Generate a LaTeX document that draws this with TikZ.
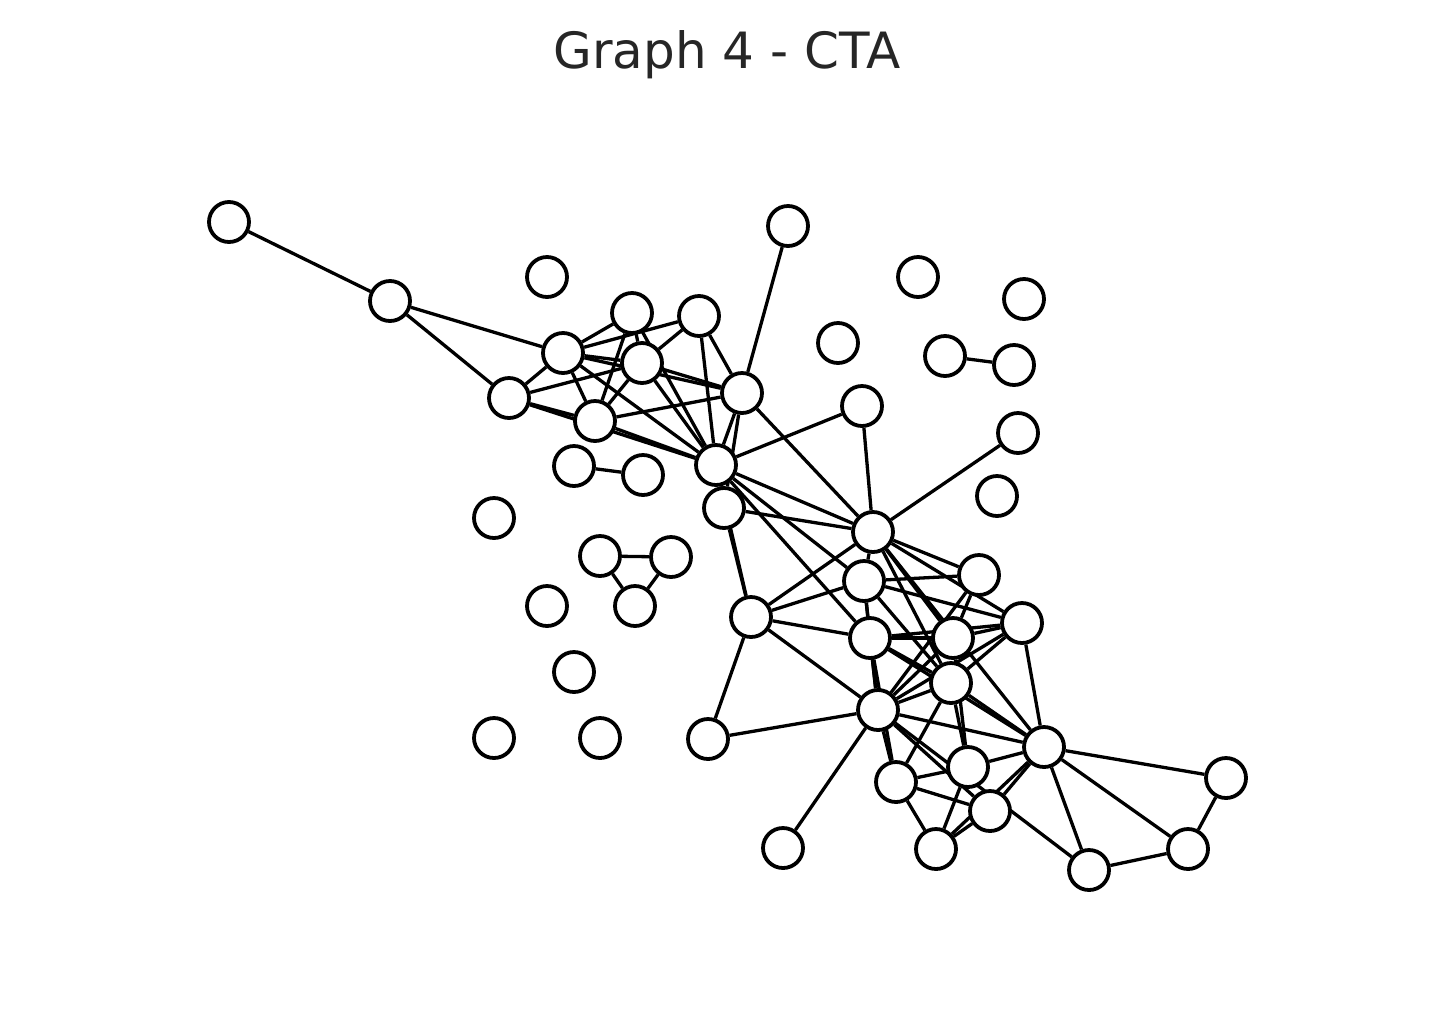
\documentclass[tikz,border=0pt]{standalone}
\usepackage{fontspec}
\setmainfont{DejaVu Sans}
\pgfdeclarelayer{bg}
\pgfsetlayers{bg,main}
\begin{document}
\begin{tikzpicture}[x=1pt,y=-1pt,
  vtx/.style={circle,draw=black,line width=3.8pt,fill=white,minimum size=40pt,inner sep=0pt},
  edge/.style={line width=3.3pt,black},
  ttl/.style={text=black!85,font=\fontsize{50}{60}\selectfont,anchor=base}]
\useasboundingbox (0,0) rectangle (1455,1029);
\node[ttl] (title) at (727,68) {Graph 4 - CTA};
% nodes
\node[vtx] (A) at (229,222) {};
\node[vtx] (B) at (390,301) {};
\node[vtx] (C) at (547,277) {};
\node[vtx] (D) at (632,313) {};
\node[vtx] (E) at (699,316) {};
\node[vtx] (F) at (563,353) {};
\node[vtx] (G) at (642,363) {};
\node[vtx] (H) at (509,398) {};
\node[vtx] (I) at (742,393) {};
\node[vtx] (J) at (595,421) {};
\node[vtx] (K) at (788,226) {};
\node[vtx] (L) at (838,343) {};
\node[vtx] (M) at (918,277) {};
\node[vtx] (N) at (1024,299) {};
\node[vtx] (O) at (945,356) {};
\node[vtx] (P) at (1014,365) {};
\node[vtx] (Q) at (862,406) {};
\node[vtx] (R) at (1018,433) {};
\node[vtx] (S) at (574,466) {};
\node[vtx] (T) at (643,475) {};
\node[vtx] (U) at (716,465) {};
\node[vtx] (V) at (724,508) {};
\node[vtx] (W) at (997,496) {};
\node[vtx] (X) at (494,518) {};
\node[vtx] (Y) at (600,556) {};
\node[vtx] (Z) at (671,557) {};
\node[vtx] (AA) at (635,606) {};
\node[vtx] (AB) at (547,606) {};
\node[vtx] (AC) at (873,532) {};
\node[vtx] (AD) at (864,581) {};
\node[vtx] (AE) at (979,575) {};
\node[vtx] (AF) at (751,617) {};
\node[vtx] (AG) at (870,638) {};
\node[vtx] (AH) at (953,638) {};
\node[vtx] (AI) at (1022,623) {};
\node[vtx] (AJ) at (951,683) {};
\node[vtx] (AK) at (574,672) {};
\node[vtx] (AL) at (878,710) {};
\node[vtx] (AM) at (494,738) {};
\node[vtx] (AN) at (600,738) {};
\node[vtx] (AO) at (708,739) {};
\node[vtx] (AP) at (1044,747) {};
\node[vtx] (AQ) at (968,767) {};
\node[vtx] (AR) at (896,782) {};
\node[vtx] (AS) at (990,811) {};
\node[vtx] (AT) at (1226,778) {};
\node[vtx] (AU) at (783,848) {};
\node[vtx] (AV) at (936,849) {};
\node[vtx] (AW) at (1089,870) {};
\node[vtx] (AX) at (1188,849) {};
\begin{pgfonlayer}{bg}
\foreach \a/\b in {A/B,B/F,B/H,F/D,F/E,F/G,F/I,F/H,F/J,F/U,D/J,D/G,D/U,H/G,H/J,H/U,
  G/J,G/E,G/I,G/U,E/I,E/U,J/I,J/U,K/I,I/U,I/V,I/AC,U/Q,U/AC,U/AD,U/AG,U/AF,S/T,O/P,
  Y/Z,Y/AA,Z/AA,Q/AC,R/AC,V/AC,V/AF,AF/AC,AF/AD,AF/AG,AF/AL,AF/AO,AO/AL,AL/AU,
  AC/AD,AD/AG,AG/AL,AD/AL,AL/AR,AG/AR,AC/AE,AC/AI,AC/AH,AC/AJ,AC/AP,AD/AE,AD/AI,AD/AJ,
  AG/AH,AG/AI,AG/AJ,AG/AP,AH/AI,AE/AH,AE/AL,AI/AJ,AI/AL,AI/AP,AH/AL,AJ/AL,AJ/AP,
  AJ/AQ,AH/AQ,AJ/AR,AL/AP,AL/AW,AL/AS,AR/AQ,AR/AS,AR/AV,AQ/AV,AQ/AP,AS/AP,AV/AP,AS/AV,
  AP/AT,AP/AX,AP/AW,AT/AX,AW/AX}
  \draw[edge] (\a) -- (\b);
\end{pgfonlayer}
\end{tikzpicture}
\end{document}
